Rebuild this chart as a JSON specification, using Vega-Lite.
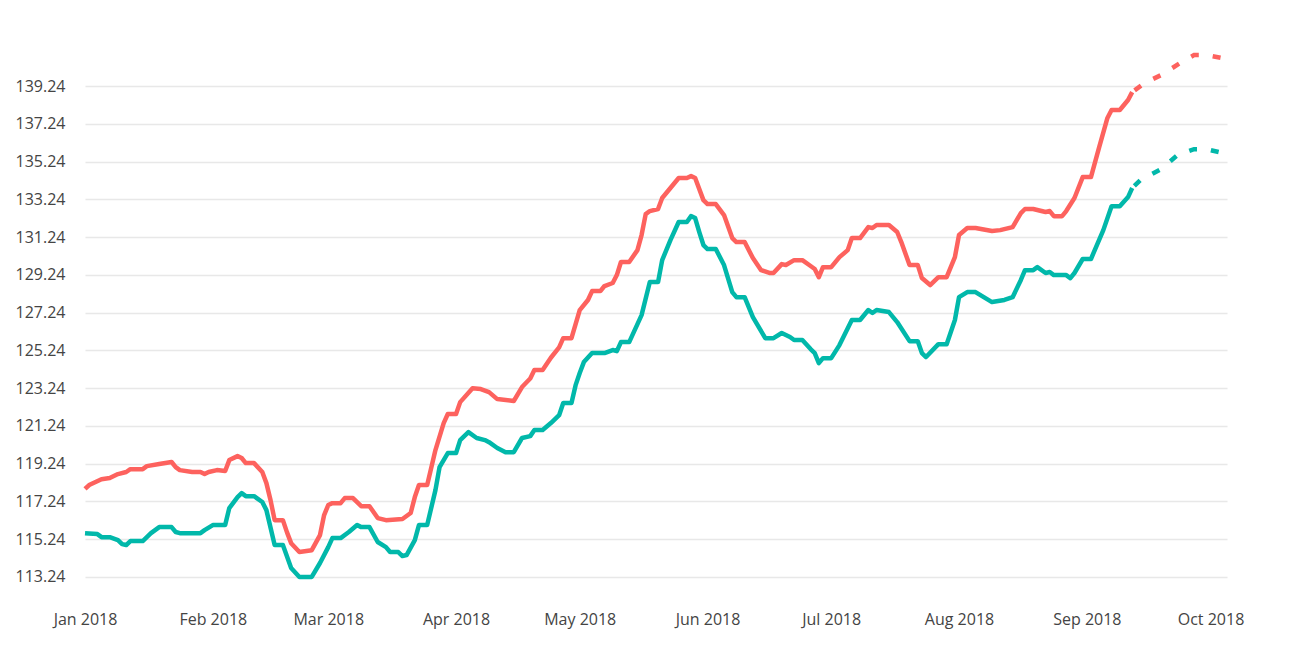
{
  "$schema": "https://vega.github.io/schema/vega-lite/v6.json",
  "width": 1142,
  "height": 560,
  "autosize": "none",
  "padding": {"left": 85, "top": 40, "right": 62, "bottom": 46},
  "background": "white",
  "config": {
    "view": {"stroke": null},
    "font": "Open Sans",
    "axis": {"labelFont": "Open Sans", "labelFontSize": 16, "labelColor": "#444444", "domain": false, "ticks": false, "title": null}
  },
  "data": {
    "values": [
      {"date": "2018-01-01T00:00", "series": "Series 2", "value": 117.90, "part": "actual"},
      {"date": "2018-01-02T00:00", "series": "Series 2", "value": 118.11, "part": "actual"},
      {"date": "2018-01-05T00:00", "series": "Series 2", "value": 118.42, "part": "actual"},
      {"date": "2018-01-07T00:00", "series": "Series 2", "value": 118.48, "part": "actual"},
      {"date": "2018-01-09T00:00", "series": "Series 2", "value": 118.69, "part": "actual"},
      {"date": "2018-01-11T00:00", "series": "Series 2", "value": 118.80, "part": "actual"},
      {"date": "2018-01-12T00:00", "series": "Series 2", "value": 118.95, "part": "actual"},
      {"date": "2018-01-15T00:00", "series": "Series 2", "value": 118.95, "part": "actual"},
      {"date": "2018-01-16T00:00", "series": "Series 2", "value": 119.11, "part": "actual"},
      {"date": "2018-01-19T00:00", "series": "Series 2", "value": 119.22, "part": "actual"},
      {"date": "2018-01-22T00:00", "series": "Series 2", "value": 119.33, "part": "actual"},
      {"date": "2018-01-23T00:00", "series": "Series 2", "value": 119.06, "part": "actual"},
      {"date": "2018-01-24T00:00", "series": "Series 2", "value": 118.90, "part": "actual"},
      {"date": "2018-01-27T00:00", "series": "Series 2", "value": 118.80, "part": "actual"},
      {"date": "2018-01-29T00:00", "series": "Series 2", "value": 118.80, "part": "actual"},
      {"date": "2018-01-30T00:00", "series": "Series 2", "value": 118.69, "part": "actual"},
      {"date": "2018-01-31T00:00", "series": "Series 2", "value": 118.80, "part": "actual"},
      {"date": "2018-02-02T00:00", "series": "Series 2", "value": 118.90, "part": "actual"},
      {"date": "2018-02-04T00:00", "series": "Series 2", "value": 118.85, "part": "actual"},
      {"date": "2018-02-05T00:00", "series": "Series 2", "value": 119.43, "part": "actual"},
      {"date": "2018-02-07T00:00", "series": "Series 2", "value": 119.64, "part": "actual"},
      {"date": "2018-02-08T00:00", "series": "Series 2", "value": 119.54, "part": "actual"},
      {"date": "2018-02-09T00:00", "series": "Series 2", "value": 119.27, "part": "actual"},
      {"date": "2018-02-11T00:00", "series": "Series 2", "value": 119.27, "part": "actual"},
      {"date": "2018-02-13T00:00", "series": "Series 2", "value": 118.80, "part": "actual"},
      {"date": "2018-02-14T00:00", "series": "Series 2", "value": 118.21, "part": "actual"},
      {"date": "2018-02-15T00:00", "series": "Series 2", "value": 117.31, "part": "actual"},
      {"date": "2018-02-16T00:00", "series": "Series 2", "value": 116.25, "part": "actual"},
      {"date": "2018-02-18T00:00", "series": "Series 2", "value": 116.25, "part": "actual"},
      {"date": "2018-02-19T00:00", "series": "Series 2", "value": 115.60, "part": "actual"},
      {"date": "2018-02-20T00:00", "series": "Series 2", "value": 115.03, "part": "actual"},
      {"date": "2018-02-22T00:00", "series": "Series 2", "value": 114.56, "part": "actual"},
      {"date": "2018-02-25T00:00", "series": "Series 2", "value": 114.66, "part": "actual"},
      {"date": "2018-02-27T00:00", "series": "Series 2", "value": 115.46, "part": "actual"},
      {"date": "2018-02-28T00:00", "series": "Series 2", "value": 116.52, "part": "actual"},
      {"date": "2018-03-01T00:00", "series": "Series 2", "value": 117.05, "part": "actual"},
      {"date": "2018-03-02T00:00", "series": "Series 2", "value": 117.15, "part": "actual"},
      {"date": "2018-03-04T00:00", "series": "Series 2", "value": 117.15, "part": "actual"},
      {"date": "2018-03-05T00:00", "series": "Series 2", "value": 117.42, "part": "actual"},
      {"date": "2018-03-07T00:00", "series": "Series 2", "value": 117.42, "part": "actual"},
      {"date": "2018-03-09T00:00", "series": "Series 2", "value": 116.99, "part": "actual"},
      {"date": "2018-03-11T00:00", "series": "Series 2", "value": 116.99, "part": "actual"},
      {"date": "2018-03-13T00:00", "series": "Series 2", "value": 116.36, "part": "actual"},
      {"date": "2018-03-15T00:00", "series": "Series 2", "value": 116.25, "part": "actual"},
      {"date": "2018-03-19T00:00", "series": "Series 2", "value": 116.31, "part": "actual"},
      {"date": "2018-03-21T00:00", "series": "Series 2", "value": 116.63, "part": "actual"},
      {"date": "2018-03-22T00:00", "series": "Series 2", "value": 117.47, "part": "actual"},
      {"date": "2018-03-23T00:00", "series": "Series 2", "value": 118.11, "part": "actual"},
      {"date": "2018-03-25T00:00", "series": "Series 2", "value": 118.11, "part": "actual"},
      {"date": "2018-03-27T00:00", "series": "Series 2", "value": 119.96, "part": "actual"},
      {"date": "2018-03-29T00:00", "series": "Series 2", "value": 121.39, "part": "actual"},
      {"date": "2018-03-30T00:00", "series": "Series 2", "value": 121.87, "part": "actual"},
      {"date": "2018-04-01T00:00", "series": "Series 2", "value": 121.87, "part": "actual"},
      {"date": "2018-04-02T00:00", "series": "Series 2", "value": 122.50, "part": "actual"},
      {"date": "2018-04-05T00:00", "series": "Series 2", "value": 123.24, "part": "actual"},
      {"date": "2018-04-07T00:00", "series": "Series 2", "value": 123.19, "part": "actual"},
      {"date": "2018-04-09T00:00", "series": "Series 2", "value": 123.03, "part": "actual"},
      {"date": "2018-04-11T00:00", "series": "Series 2", "value": 122.66, "part": "actual"},
      {"date": "2018-04-15T00:00", "series": "Series 2", "value": 122.56, "part": "actual"},
      {"date": "2018-04-17T00:00", "series": "Series 2", "value": 123.30, "part": "actual"},
      {"date": "2018-04-19T00:00", "series": "Series 2", "value": 123.75, "part": "actual"},
      {"date": "2018-04-20T00:00", "series": "Series 2", "value": 124.20, "part": "actual"},
      {"date": "2018-04-22T00:00", "series": "Series 2", "value": 124.20, "part": "actual"},
      {"date": "2018-04-24T00:00", "series": "Series 2", "value": 124.85, "part": "actual"},
      {"date": "2018-04-26T00:00", "series": "Series 2", "value": 125.40, "part": "actual"},
      {"date": "2018-04-27T00:00", "series": "Series 2", "value": 125.89, "part": "actual"},
      {"date": "2018-04-29T00:00", "series": "Series 2", "value": 125.89, "part": "actual"},
      {"date": "2018-05-01T00:00", "series": "Series 2", "value": 127.37, "part": "actual"},
      {"date": "2018-05-03T00:00", "series": "Series 2", "value": 127.91, "part": "actual"},
      {"date": "2018-05-04T00:00", "series": "Series 2", "value": 128.38, "part": "actual"},
      {"date": "2018-05-06T00:00", "series": "Series 2", "value": 128.38, "part": "actual"},
      {"date": "2018-05-07T00:00", "series": "Series 2", "value": 128.65, "part": "actual"},
      {"date": "2018-05-09T00:00", "series": "Series 2", "value": 128.81, "part": "actual"},
      {"date": "2018-05-10T00:00", "series": "Series 2", "value": 129.23, "part": "actual"},
      {"date": "2018-05-11T00:00", "series": "Series 2", "value": 129.92, "part": "actual"},
      {"date": "2018-05-13T00:00", "series": "Series 2", "value": 129.92, "part": "actual"},
      {"date": "2018-05-15T00:00", "series": "Series 2", "value": 130.55, "part": "actual"},
      {"date": "2018-05-16T00:00", "series": "Series 2", "value": 131.35, "part": "actual"},
      {"date": "2018-05-17T00:00", "series": "Series 2", "value": 132.46, "part": "actual"},
      {"date": "2018-05-18T00:00", "series": "Series 2", "value": 132.62, "part": "actual"},
      {"date": "2018-05-20T00:00", "series": "Series 2", "value": 132.73, "part": "actual"},
      {"date": "2018-05-21T00:00", "series": "Series 2", "value": 133.31, "part": "actual"},
      {"date": "2018-05-23T00:00", "series": "Series 2", "value": 133.84, "part": "actual"},
      {"date": "2018-05-25T00:00", "series": "Series 2", "value": 134.37, "part": "actual"},
      {"date": "2018-05-27T00:00", "series": "Series 2", "value": 134.37, "part": "actual"},
      {"date": "2018-05-28T00:00", "series": "Series 2", "value": 134.47, "part": "actual"},
      {"date": "2018-05-29T00:00", "series": "Series 2", "value": 134.37, "part": "actual"},
      {"date": "2018-05-31T00:00", "series": "Series 2", "value": 133.20, "part": "actual"},
      {"date": "2018-06-01T00:00", "series": "Series 2", "value": 132.99, "part": "actual"},
      {"date": "2018-06-03T00:00", "series": "Series 2", "value": 132.99, "part": "actual"},
      {"date": "2018-06-05T00:00", "series": "Series 2", "value": 132.41, "part": "actual"},
      {"date": "2018-06-07T00:00", "series": "Series 2", "value": 131.19, "part": "actual"},
      {"date": "2018-06-08T00:00", "series": "Series 2", "value": 130.98, "part": "actual"},
      {"date": "2018-06-10T00:00", "series": "Series 2", "value": 130.98, "part": "actual"},
      {"date": "2018-06-12T00:00", "series": "Series 2", "value": 130.13, "part": "actual"},
      {"date": "2018-06-14T00:00", "series": "Series 2", "value": 129.49, "part": "actual"},
      {"date": "2018-06-16T00:00", "series": "Series 2", "value": 129.34, "part": "actual"},
      {"date": "2018-06-17T00:00", "series": "Series 2", "value": 129.34, "part": "actual"},
      {"date": "2018-06-19T00:00", "series": "Series 2", "value": 129.81, "part": "actual"},
      {"date": "2018-06-20T00:00", "series": "Series 2", "value": 129.76, "part": "actual"},
      {"date": "2018-06-22T00:00", "series": "Series 2", "value": 130.02, "part": "actual"},
      {"date": "2018-06-24T00:00", "series": "Series 2", "value": 130.02, "part": "actual"},
      {"date": "2018-06-26T00:00", "series": "Series 2", "value": 129.71, "part": "actual"},
      {"date": "2018-06-27T00:00", "series": "Series 2", "value": 129.55, "part": "actual"},
      {"date": "2018-06-28T00:00", "series": "Series 2", "value": 129.12, "part": "actual"},
      {"date": "2018-06-29T00:00", "series": "Series 2", "value": 129.65, "part": "actual"},
      {"date": "2018-07-01T00:00", "series": "Series 2", "value": 129.65, "part": "actual"},
      {"date": "2018-07-03T00:00", "series": "Series 2", "value": 130.18, "part": "actual"},
      {"date": "2018-07-05T00:00", "series": "Series 2", "value": 130.55, "part": "actual"},
      {"date": "2018-07-06T00:00", "series": "Series 2", "value": 131.19, "part": "actual"},
      {"date": "2018-07-08T00:00", "series": "Series 2", "value": 131.19, "part": "actual"},
      {"date": "2018-07-10T00:00", "series": "Series 2", "value": 131.77, "part": "actual"},
      {"date": "2018-07-11T00:00", "series": "Series 2", "value": 131.72, "part": "actual"},
      {"date": "2018-07-12T00:00", "series": "Series 2", "value": 131.88, "part": "actual"},
      {"date": "2018-07-15T00:00", "series": "Series 2", "value": 131.88, "part": "actual"},
      {"date": "2018-07-17T00:00", "series": "Series 2", "value": 131.51, "part": "actual"},
      {"date": "2018-07-18T00:00", "series": "Series 2", "value": 130.98, "part": "actual"},
      {"date": "2018-07-20T00:00", "series": "Series 2", "value": 129.76, "part": "actual"},
      {"date": "2018-07-22T00:00", "series": "Series 2", "value": 129.76, "part": "actual"},
      {"date": "2018-07-23T00:00", "series": "Series 2", "value": 129.07, "part": "actual"},
      {"date": "2018-07-25T00:00", "series": "Series 2", "value": 128.70, "part": "actual"},
      {"date": "2018-07-27T00:00", "series": "Series 2", "value": 129.12, "part": "actual"},
      {"date": "2018-07-29T00:00", "series": "Series 2", "value": 129.12, "part": "actual"},
      {"date": "2018-07-31T00:00", "series": "Series 2", "value": 130.18, "part": "actual"},
      {"date": "2018-08-01T00:00", "series": "Series 2", "value": 131.35, "part": "actual"},
      {"date": "2018-08-03T00:00", "series": "Series 2", "value": 131.72, "part": "actual"},
      {"date": "2018-08-05T00:00", "series": "Series 2", "value": 131.72, "part": "actual"},
      {"date": "2018-08-09T00:00", "series": "Series 2", "value": 131.56, "part": "actual"},
      {"date": "2018-08-11T00:00", "series": "Series 2", "value": 131.61, "part": "actual"},
      {"date": "2018-08-14T00:00", "series": "Series 2", "value": 131.77, "part": "actual"},
      {"date": "2018-08-16T00:00", "series": "Series 2", "value": 132.51, "part": "actual"},
      {"date": "2018-08-17T00:00", "series": "Series 2", "value": 132.73, "part": "actual"},
      {"date": "2018-08-19T00:00", "series": "Series 2", "value": 132.73, "part": "actual"},
      {"date": "2018-08-22T00:00", "series": "Series 2", "value": 132.57, "part": "actual"},
      {"date": "2018-08-23T00:00", "series": "Series 2", "value": 132.62, "part": "actual"},
      {"date": "2018-08-24T00:00", "series": "Series 2", "value": 132.35, "part": "actual"},
      {"date": "2018-08-26T00:00", "series": "Series 2", "value": 132.35, "part": "actual"},
      {"date": "2018-08-27T00:00", "series": "Series 2", "value": 132.62, "part": "actual"},
      {"date": "2018-08-29T00:00", "series": "Series 2", "value": 133.31, "part": "actual"},
      {"date": "2018-08-31T00:00", "series": "Series 2", "value": 134.42, "part": "actual"},
      {"date": "2018-09-02T00:00", "series": "Series 2", "value": 134.42, "part": "actual"},
      {"date": "2018-09-04T00:00", "series": "Series 2", "value": 136.01, "part": "actual"},
      {"date": "2018-09-06T00:00", "series": "Series 2", "value": 137.55, "part": "actual"},
      {"date": "2018-09-07T00:00", "series": "Series 2", "value": 137.97, "part": "actual"},
      {"date": "2018-09-09T00:00", "series": "Series 2", "value": 137.97, "part": "actual"},
      {"date": "2018-09-11T00:00", "series": "Series 2", "value": 138.50, "part": "actual"},
      {"date": "2018-09-12T00:00", "series": "Series 2", "value": 138.92, "part": "actual"},
      {"date": "2018-09-12T00:00", "series": "Series 2", "value": 138.92, "part": "forecast"},
      {"date": "2018-09-15T00:00", "series": "Series 2", "value": 139.40, "part": "forecast"},
      {"date": "2018-09-19T00:00", "series": "Series 2", "value": 139.82, "part": "forecast"},
      {"date": "2018-09-24T00:00", "series": "Series 2", "value": 140.51, "part": "forecast"},
      {"date": "2018-09-27T00:00", "series": "Series 2", "value": 140.88, "part": "forecast"},
      {"date": "2018-09-30T00:00", "series": "Series 2", "value": 140.88, "part": "forecast"},
      {"date": "2018-10-05T00:00", "series": "Series 2", "value": 140.67, "part": "forecast"},
      {"date": "2018-01-01T00:00", "series": "Series 1", "value": 115.56, "part": "actual"},
      {"date": "2018-01-04T00:00", "series": "Series 1", "value": 115.51, "part": "actual"},
      {"date": "2018-01-05T00:00", "series": "Series 1", "value": 115.35, "part": "actual"},
      {"date": "2018-01-07T00:00", "series": "Series 1", "value": 115.35, "part": "actual"},
      {"date": "2018-01-09T00:00", "series": "Series 1", "value": 115.19, "part": "actual"},
      {"date": "2018-01-10T00:00", "series": "Series 1", "value": 114.98, "part": "actual"},
      {"date": "2018-01-11T00:00", "series": "Series 1", "value": 114.93, "part": "actual"},
      {"date": "2018-01-12T00:00", "series": "Series 1", "value": 115.14, "part": "actual"},
      {"date": "2018-01-15T00:00", "series": "Series 1", "value": 115.14, "part": "actual"},
      {"date": "2018-01-16T00:00", "series": "Series 1", "value": 115.35, "part": "actual"},
      {"date": "2018-01-17T00:00", "series": "Series 1", "value": 115.56, "part": "actual"},
      {"date": "2018-01-19T00:00", "series": "Series 1", "value": 115.88, "part": "actual"},
      {"date": "2018-01-22T00:00", "series": "Series 1", "value": 115.88, "part": "actual"},
      {"date": "2018-01-23T00:00", "series": "Series 1", "value": 115.62, "part": "actual"},
      {"date": "2018-01-24T00:00", "series": "Series 1", "value": 115.56, "part": "actual"},
      {"date": "2018-01-29T00:00", "series": "Series 1", "value": 115.56, "part": "actual"},
      {"date": "2018-01-30T00:00", "series": "Series 1", "value": 115.72, "part": "actual"},
      {"date": "2018-02-01T00:00", "series": "Series 1", "value": 115.99, "part": "actual"},
      {"date": "2018-02-04T00:00", "series": "Series 1", "value": 115.99, "part": "actual"},
      {"date": "2018-02-05T00:00", "series": "Series 1", "value": 116.89, "part": "actual"},
      {"date": "2018-02-07T00:00", "series": "Series 1", "value": 117.47, "part": "actual"},
      {"date": "2018-02-08T00:00", "series": "Series 1", "value": 117.68, "part": "actual"},
      {"date": "2018-02-09T00:00", "series": "Series 1", "value": 117.52, "part": "actual"},
      {"date": "2018-02-11T00:00", "series": "Series 1", "value": 117.52, "part": "actual"},
      {"date": "2018-02-13T00:00", "series": "Series 1", "value": 117.21, "part": "actual"},
      {"date": "2018-02-14T00:00", "series": "Series 1", "value": 116.78, "part": "actual"},
      {"date": "2018-02-16T00:00", "series": "Series 1", "value": 114.93, "part": "actual"},
      {"date": "2018-02-18T00:00", "series": "Series 1", "value": 114.93, "part": "actual"},
      {"date": "2018-02-20T00:00", "series": "Series 1", "value": 113.71, "part": "actual"},
      {"date": "2018-02-22T00:00", "series": "Series 1", "value": 113.24, "part": "actual"},
      {"date": "2018-02-25T00:00", "series": "Series 1", "value": 113.24, "part": "actual"},
      {"date": "2018-02-27T00:00", "series": "Series 1", "value": 113.98, "part": "actual"},
      {"date": "2018-03-01T00:00", "series": "Series 1", "value": 114.82, "part": "actual"},
      {"date": "2018-03-02T00:00", "series": "Series 1", "value": 115.30, "part": "actual"},
      {"date": "2018-03-04T00:00", "series": "Series 1", "value": 115.30, "part": "actual"},
      {"date": "2018-03-06T00:00", "series": "Series 1", "value": 115.62, "part": "actual"},
      {"date": "2018-03-08T00:00", "series": "Series 1", "value": 115.99, "part": "actual"},
      {"date": "2018-03-09T00:00", "series": "Series 1", "value": 115.88, "part": "actual"},
      {"date": "2018-03-11T00:00", "series": "Series 1", "value": 115.88, "part": "actual"},
      {"date": "2018-03-13T00:00", "series": "Series 1", "value": 115.09, "part": "actual"},
      {"date": "2018-03-15T00:00", "series": "Series 1", "value": 114.82, "part": "actual"},
      {"date": "2018-03-16T00:00", "series": "Series 1", "value": 114.56, "part": "actual"},
      {"date": "2018-03-18T00:00", "series": "Series 1", "value": 114.56, "part": "actual"},
      {"date": "2018-03-19T00:00", "series": "Series 1", "value": 114.35, "part": "actual"},
      {"date": "2018-03-20T00:00", "series": "Series 1", "value": 114.40, "part": "actual"},
      {"date": "2018-03-22T00:00", "series": "Series 1", "value": 115.19, "part": "actual"},
      {"date": "2018-03-23T00:00", "series": "Series 1", "value": 115.99, "part": "actual"},
      {"date": "2018-03-25T00:00", "series": "Series 1", "value": 115.99, "part": "actual"},
      {"date": "2018-03-27T00:00", "series": "Series 1", "value": 117.84, "part": "actual"},
      {"date": "2018-03-28T00:00", "series": "Series 1", "value": 119.06, "part": "actual"},
      {"date": "2018-03-30T00:00", "series": "Series 1", "value": 119.80, "part": "actual"},
      {"date": "2018-04-01T00:00", "series": "Series 1", "value": 119.80, "part": "actual"},
      {"date": "2018-04-02T00:00", "series": "Series 1", "value": 120.49, "part": "actual"},
      {"date": "2018-04-04T00:00", "series": "Series 1", "value": 120.91, "part": "actual"},
      {"date": "2018-04-06T00:00", "series": "Series 1", "value": 120.60, "part": "actual"},
      {"date": "2018-04-08T00:00", "series": "Series 1", "value": 120.49, "part": "actual"},
      {"date": "2018-04-09T00:00", "series": "Series 1", "value": 120.38, "part": "actual"},
      {"date": "2018-04-11T00:00", "series": "Series 1", "value": 120.07, "part": "actual"},
      {"date": "2018-04-13T00:00", "series": "Series 1", "value": 119.85, "part": "actual"},
      {"date": "2018-04-15T00:00", "series": "Series 1", "value": 119.85, "part": "actual"},
      {"date": "2018-04-17T00:00", "series": "Series 1", "value": 120.60, "part": "actual"},
      {"date": "2018-04-19T00:00", "series": "Series 1", "value": 120.70, "part": "actual"},
      {"date": "2018-04-20T00:00", "series": "Series 1", "value": 121.02, "part": "actual"},
      {"date": "2018-04-22T00:00", "series": "Series 1", "value": 121.02, "part": "actual"},
      {"date": "2018-04-24T00:00", "series": "Series 1", "value": 121.39, "part": "actual"},
      {"date": "2018-04-26T00:00", "series": "Series 1", "value": 121.81, "part": "actual"},
      {"date": "2018-04-27T00:00", "series": "Series 1", "value": 122.45, "part": "actual"},
      {"date": "2018-04-29T00:00", "series": "Series 1", "value": 122.45, "part": "actual"},
      {"date": "2018-04-30T00:00", "series": "Series 1", "value": 123.40, "part": "actual"},
      {"date": "2018-05-01T00:00", "series": "Series 1", "value": 124.04, "part": "actual"},
      {"date": "2018-05-02T00:00", "series": "Series 1", "value": 124.62, "part": "actual"},
      {"date": "2018-05-04T00:00", "series": "Series 1", "value": 125.10, "part": "actual"},
      {"date": "2018-05-07T00:00", "series": "Series 1", "value": 125.10, "part": "actual"},
      {"date": "2018-05-09T00:00", "series": "Series 1", "value": 125.26, "part": "actual"},
      {"date": "2018-05-10T00:00", "series": "Series 1", "value": 125.20, "part": "actual"},
      {"date": "2018-05-11T00:00", "series": "Series 1", "value": 125.68, "part": "actual"},
      {"date": "2018-05-13T00:00", "series": "Series 1", "value": 125.68, "part": "actual"},
      {"date": "2018-05-16T00:00", "series": "Series 1", "value": 127.11, "part": "actual"},
      {"date": "2018-05-18T00:00", "series": "Series 1", "value": 128.86, "part": "actual"},
      {"date": "2018-05-20T00:00", "series": "Series 1", "value": 128.86, "part": "actual"},
      {"date": "2018-05-21T00:00", "series": "Series 1", "value": 130.02, "part": "actual"},
      {"date": "2018-05-22T00:00", "series": "Series 1", "value": 130.55, "part": "actual"},
      {"date": "2018-05-23T00:00", "series": "Series 1", "value": 131.08, "part": "actual"},
      {"date": "2018-05-25T00:00", "series": "Series 1", "value": 132.04, "part": "actual"},
      {"date": "2018-05-27T00:00", "series": "Series 1", "value": 132.04, "part": "actual"},
      {"date": "2018-05-28T00:00", "series": "Series 1", "value": 132.35, "part": "actual"},
      {"date": "2018-05-29T00:00", "series": "Series 1", "value": 132.25, "part": "actual"},
      {"date": "2018-05-30T00:00", "series": "Series 1", "value": 131.51, "part": "actual"},
      {"date": "2018-05-31T00:00", "series": "Series 1", "value": 130.82, "part": "actual"},
      {"date": "2018-06-01T00:00", "series": "Series 1", "value": 130.61, "part": "actual"},
      {"date": "2018-06-03T00:00", "series": "Series 1", "value": 130.61, "part": "actual"},
      {"date": "2018-06-05T00:00", "series": "Series 1", "value": 129.76, "part": "actual"},
      {"date": "2018-06-07T00:00", "series": "Series 1", "value": 128.33, "part": "actual"},
      {"date": "2018-06-08T00:00", "series": "Series 1", "value": 128.06, "part": "actual"},
      {"date": "2018-06-10T00:00", "series": "Series 1", "value": 128.06, "part": "actual"},
      {"date": "2018-06-12T00:00", "series": "Series 1", "value": 127.00, "part": "actual"},
      {"date": "2018-06-15T00:00", "series": "Series 1", "value": 125.89, "part": "actual"},
      {"date": "2018-06-17T00:00", "series": "Series 1", "value": 125.89, "part": "actual"},
      {"date": "2018-06-19T00:00", "series": "Series 1", "value": 126.16, "part": "actual"},
      {"date": "2018-06-21T00:00", "series": "Series 1", "value": 125.95, "part": "actual"},
      {"date": "2018-06-22T00:00", "series": "Series 1", "value": 125.79, "part": "actual"},
      {"date": "2018-06-24T00:00", "series": "Series 1", "value": 125.79, "part": "actual"},
      {"date": "2018-06-26T00:00", "series": "Series 1", "value": 125.31, "part": "actual"},
      {"date": "2018-06-27T00:00", "series": "Series 1", "value": 125.10, "part": "actual"},
      {"date": "2018-06-28T00:00", "series": "Series 1", "value": 124.57, "part": "actual"},
      {"date": "2018-06-29T00:00", "series": "Series 1", "value": 124.83, "part": "actual"},
      {"date": "2018-07-01T00:00", "series": "Series 1", "value": 124.83, "part": "actual"},
      {"date": "2018-07-03T00:00", "series": "Series 1", "value": 125.52, "part": "actual"},
      {"date": "2018-07-06T00:00", "series": "Series 1", "value": 126.85, "part": "actual"},
      {"date": "2018-07-08T00:00", "series": "Series 1", "value": 126.85, "part": "actual"},
      {"date": "2018-07-10T00:00", "series": "Series 1", "value": 127.38, "part": "actual"},
      {"date": "2018-07-11T00:00", "series": "Series 1", "value": 127.22, "part": "actual"},
      {"date": "2018-07-12T00:00", "series": "Series 1", "value": 127.38, "part": "actual"},
      {"date": "2018-07-15T00:00", "series": "Series 1", "value": 127.27, "part": "actual"},
      {"date": "2018-07-17T00:00", "series": "Series 1", "value": 126.74, "part": "actual"},
      {"date": "2018-07-20T00:00", "series": "Series 1", "value": 125.73, "part": "actual"},
      {"date": "2018-07-22T00:00", "series": "Series 1", "value": 125.73, "part": "actual"},
      {"date": "2018-07-23T00:00", "series": "Series 1", "value": 125.10, "part": "actual"},
      {"date": "2018-07-24T00:00", "series": "Series 1", "value": 124.89, "part": "actual"},
      {"date": "2018-07-27T00:00", "series": "Series 1", "value": 125.57, "part": "actual"},
      {"date": "2018-07-29T00:00", "series": "Series 1", "value": 125.57, "part": "actual"},
      {"date": "2018-07-31T00:00", "series": "Series 1", "value": 126.85, "part": "actual"},
      {"date": "2018-08-01T00:00", "series": "Series 1", "value": 128.06, "part": "actual"},
      {"date": "2018-08-03T00:00", "series": "Series 1", "value": 128.33, "part": "actual"},
      {"date": "2018-08-05T00:00", "series": "Series 1", "value": 128.33, "part": "actual"},
      {"date": "2018-08-07T00:00", "series": "Series 1", "value": 128.06, "part": "actual"},
      {"date": "2018-08-09T00:00", "series": "Series 1", "value": 127.80, "part": "actual"},
      {"date": "2018-08-12T00:00", "series": "Series 1", "value": 127.91, "part": "actual"},
      {"date": "2018-08-14T00:00", "series": "Series 1", "value": 128.06, "part": "actual"},
      {"date": "2018-08-16T00:00", "series": "Series 1", "value": 128.97, "part": "actual"},
      {"date": "2018-08-17T00:00", "series": "Series 1", "value": 129.49, "part": "actual"},
      {"date": "2018-08-19T00:00", "series": "Series 1", "value": 129.49, "part": "actual"},
      {"date": "2018-08-20T00:00", "series": "Series 1", "value": 129.65, "part": "actual"},
      {"date": "2018-08-22T00:00", "series": "Series 1", "value": 129.34, "part": "actual"},
      {"date": "2018-08-23T00:00", "series": "Series 1", "value": 129.39, "part": "actual"},
      {"date": "2018-08-24T00:00", "series": "Series 1", "value": 129.23, "part": "actual"},
      {"date": "2018-08-27T00:00", "series": "Series 1", "value": 129.23, "part": "actual"},
      {"date": "2018-08-28T00:00", "series": "Series 1", "value": 129.07, "part": "actual"},
      {"date": "2018-08-29T00:00", "series": "Series 1", "value": 129.34, "part": "actual"},
      {"date": "2018-08-31T00:00", "series": "Series 1", "value": 130.08, "part": "actual"},
      {"date": "2018-09-02T00:00", "series": "Series 1", "value": 130.08, "part": "actual"},
      {"date": "2018-09-05T00:00", "series": "Series 1", "value": 131.61, "part": "actual"},
      {"date": "2018-09-07T00:00", "series": "Series 1", "value": 132.88, "part": "actual"},
      {"date": "2018-09-09T00:00", "series": "Series 1", "value": 132.88, "part": "actual"},
      {"date": "2018-09-11T00:00", "series": "Series 1", "value": 133.36, "part": "actual"},
      {"date": "2018-09-12T00:00", "series": "Series 1", "value": 133.84, "part": "actual"},
      {"date": "2018-09-12T00:00", "series": "Series 1", "value": 133.84, "part": "forecast"},
      {"date": "2018-09-14T00:00", "series": "Series 1", "value": 134.26, "part": "forecast"},
      {"date": "2018-09-19T00:00", "series": "Series 1", "value": 134.84, "part": "forecast"},
      {"date": "2018-09-23T00:00", "series": "Series 1", "value": 135.59, "part": "forecast"},
      {"date": "2018-09-27T00:00", "series": "Series 1", "value": 135.90, "part": "forecast"},
      {"date": "2018-09-30T00:00", "series": "Series 1", "value": 135.90, "part": "forecast"},
      {"date": "2018-10-05T00:00", "series": "Series 1", "value": 135.64, "part": "forecast"}
    ]
  },
  "encoding": {
    "x": {
      "field": "date",
      "type": "temporal",
      "scale": {"domain": [{"year": 2018, "month": "jan", "date": 1}, {"year": 2018, "month": "oct", "date": 5}]},
      "axis": {"format": "%b %Y", "tickCount": {"interval": "month", "step": 1}, "grid": false, "labelPadding": 11, "labelFlush": false, "labelOverlap": false}
    },
    "y": {
      "field": "value",
      "type": "quantitative",
      "scale": {"domain": [112.02, 141.68], "nice": false, "zero": false},
      "axis": {
        "values": [113.24, 115.24, 117.24, 119.24, 121.24, 123.24, 125.24, 127.24, 129.24, 131.24, 133.24, 135.24, 137.24, 139.24],
        "format": ".2f",
        "grid": true,
        "gridColor": "#e8e8e8",
        "gridWidth": 1.5,
        "labelPadding": 20
      }
    },
    "color": {
      "field": "series",
      "type": "nominal",
      "scale": {"domain": ["Series 1", "Series 2"], "range": ["#01B8AA", "#FD625E"]},
      "legend": null
    }
  },
  "layer": [
    {
      "transform": [{"filter": "datum.part === 'actual'"}],
      "mark": {"type": "line", "strokeWidth": 4.5, "strokeJoin": "round"}
    },
    {
      "transform": [{"filter": "datum.part === 'forecast'"}],
      "mark": {"type": "line", "strokeWidth": 4.5, "strokeDash": [8, 14], "strokeDashOffset": -3}
    }
  ]
}
